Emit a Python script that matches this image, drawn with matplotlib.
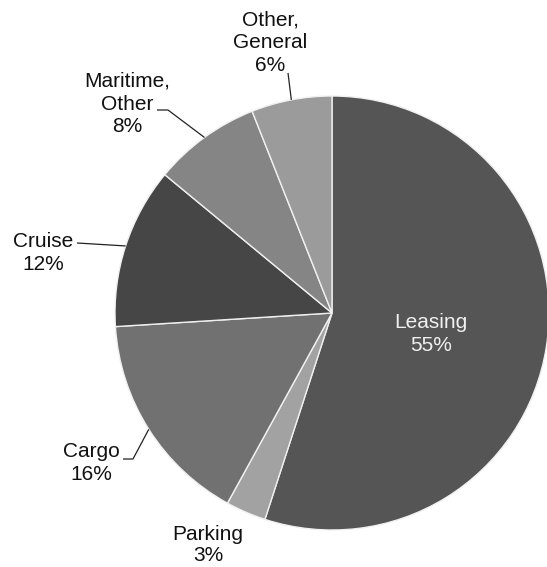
import numpy as np
import matplotlib
matplotlib.use("Agg")
import matplotlib.pyplot as plt

categories = ["Leasing", "Parking", "Cargo", "Cruise", "Maritime,\nOther", "Other,\nGeneral"]
shares = [55, 3, 16, 12, 8, 6]
colors = ["#555555", "#a2a2a2", "#717171", "#464646", "#858585", "#9b9b9b"]

W, H = 547, 567
fig = plt.figure(figsize=(W / 100, H / 100), dpi=100)
ax = fig.add_axes([0, 0, 1, 1])

cx, cy, R = 332, H - 313, 217
wedges, _ = ax.pie(shares, colors=colors, startangle=90, counterclock=False,
                   center=(cx, cy), radius=R, frame=True,
                   wedgeprops=dict(edgecolor="#f0f0f0", linewidth=1.0))
ax.set_xlim(0, W)
ax.set_ylim(0, H)
ax.set_aspect("equal")
ax.axis("off")

font = dict(family=["Liberation Sans", "DejaVu Sans"], fontsize=15)

# label centers (pixel coordinates, y from top)
label_pos = [(431, 334), (208, 545), (91, 463), (43.5, 253), (127.5, 104), (270, 43)]
for i, (cat, v) in enumerate(zip(categories, shares)):
    x, y = label_pos[i]
    col = "#f0f0f0" if i == 0 else "#111111"
    ls = 1.15 if i == 1 else 1.25
    ax.text(x, H - y, f"{cat}\n{v}%", ha="center", va="center",
            color=col, linespacing=ls, **font)

def edge_point(w):
    ang = np.deg2rad((w.theta1 + w.theta2) / 2)
    return cx + R * np.cos(ang), cy + R * np.sin(ang)

# leader lines: (label-side points) -> wedge edge midpoint
leaders = {
    2: [(123, 459), (133, 459)],
    3: [(77, 243)],
    4: [(157, 110), (168, 110)],
    5: [(288, 73)],
}
for i, pts in leaders.items():
    ex, ey = edge_point(wedges[i])
    xs = [p[0] for p in pts] + [ex]
    ys = [H - p[1] for p in pts] + [ey]
    ax.plot(xs, ys, color="#222222", linewidth=0.9, solid_capstyle="butt")

fig.savefig("out.png", dpi=100, facecolor="white")
